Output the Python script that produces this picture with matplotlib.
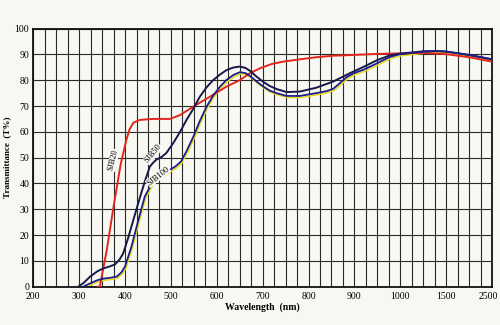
import numpy as np
import matplotlib
matplotlib.use("Agg")
import matplotlib.pyplot as plt
import matplotlib.transforms as mtransforms

# x axis is broken into equal steps: 200..1000 by 100, then 1500, 2500
TICK_WL = [200, 300, 400, 500, 600, 700, 800, 900, 1000, 1500, 2500]
Y_TICKS = [0, 10, 20, 30, 40, 50, 60, 70, 80, 90, 100]

# SJB20 (red)
wl_sjb20 = [340, 345, 360, 375, 390, 403, 410, 418, 432, 460, 498, 520, 549, 585,
            621, 650, 672, 694, 720, 745, 781, 817, 854, 900, 951, 1000, 1250,
            1500, 2000, 2500]
t_sjb20 = [0, 0, 14, 31, 47, 57, 61, 63.5, 64.6, 65, 65, 66.5, 69.8, 73.6,
           77.5, 80, 82.7, 84.6, 86.3, 87.2, 88.1, 88.9, 89.5, 89.8, 90.2, 90.4, 90.6,
           90.1, 88.9, 87.2]

# SJB50 (dark, upper)
wl_sjb50 = [298, 310, 324, 340, 353, 366, 378, 388, 396, 407, 418, 432, 443, 454,
            462, 469, 480, 490, 505, 520, 534, 549, 563, 578, 592, 607, 621, 636,
            650, 662, 672, 686, 701, 715, 730, 752, 781, 817, 854, 890, 919, 950, 977,
            1000, 1250, 1400, 1500, 2000, 2500]
t_sjb50 = [0, 1.5, 3.9, 6, 7.1, 7.8, 8.6, 10.5, 12.9, 19, 25.8, 34.3, 40.7, 46.5,
           48.2, 49.3, 50.3, 51.8, 55.6, 60, 64.6, 69, 73.6, 77.3, 80, 82.2, 83.9, 84.9,
           85.3, 84.8, 83.7, 81.5, 79.4, 77.8, 76.6, 75.4, 75.6, 77.1, 79.5, 82.7,
           85.1, 87.8, 89.6, 90.3, 91.2, 91.3, 91.1, 89.8, 88.1]

# SJB100 (blue, lower)
wl_sjb100 = [309, 324, 340, 353, 370, 382, 392, 400, 414, 429, 443, 458, 468, 476,
             488, 498, 510, 522, 534, 549, 563, 578, 592, 607, 621, 636, 650, 662,
             672, 686, 701, 715, 730, 752, 781, 817, 840, 854, 868, 883, 900, 919,
             950, 977, 1000, 1250, 1400, 1500, 2000, 2500]
t_sjb100 = [0, 1.3, 2.5, 3.1, 3.5, 3.9, 5.5, 7.8, 15.5, 25.8, 34.9, 39.8, 41.6, 42.6,
            44, 45.3, 46.6, 48.5, 52.5, 58.1, 64.2, 69.8, 74, 77.5, 80.1, 82, 83.1, 82.8,
            81.7, 79.6, 77.6, 76, 75, 73.9, 73.9, 75, 75.8, 76.7, 78.8, 81.2, 82.8, 84,
            86.6, 89, 90.1, 91.1, 91.3, 91.1, 89.8, 88.1]

BG = "#f8f8f3"


def to_pos(wl):
    return np.interp(wl, TICK_WL, np.arange(len(TICK_WL)))


plt.rcParams["font.family"] = ["Liberation Serif", "DejaVu Serif"]

fig = plt.figure(figsize=(5, 3.25), dpi=100, facecolor=BG)
ax = fig.add_axes([0.0666, 0.118, 0.9174, 0.794])
ax.set_facecolor(BG)

# grid
for i in np.arange(0, 10.01, 0.25):
    ax.axvline(i, color="#2a2a2a", lw=0.8, zorder=1)
for y in Y_TICKS:
    ax.axhline(y, color="#2a2a2a", lw=0.8, zorder=1)

ax.plot(to_pos(wl_sjb20), t_sjb20, color="#e3261c", lw=1.4, zorder=3)
ax.plot(to_pos(wl_sjb50), t_sjb50, color="#18184a", lw=1.4, zorder=3)
shift = mtransforms.offset_copy(ax.transData, fig=fig, x=0.6, y=-1.2, units="points")
ax.plot(to_pos(wl_sjb100), t_sjb100, color="#e6dc1e", lw=1.1, zorder=2,
        transform=shift)
ax.plot(to_pos(wl_sjb100), t_sjb100, color="#1d1d8c", lw=1.3, zorder=3)

# curve labels
ax.text(to_pos(374), 49, "SJB20", rotation=76, fontsize=6, ha="center",
        va="center", zorder=4, bbox=dict(fc=BG, ec="none", pad=0.3))
ax.text(to_pos(461), 51.5, "SJB50", rotation=50, fontsize=6, ha="center",
        va="center", zorder=4, bbox=dict(fc=BG, ec="none", pad=0.3))
ax.text(to_pos(472), 42.8, "SJB100", rotation=38, fontsize=6, ha="center",
        va="center", zorder=4, bbox=dict(fc=BG, ec="none", pad=0.3))

ax.set_xlim(0, 10)
ax.set_ylim(0, 100)
ax.set_xticks(np.arange(len(TICK_WL)))
ax.set_xticklabels([str(w) for w in TICK_WL])
ax.set_yticks(Y_TICKS)
ax.tick_params(length=0, labelsize=7, pad=4)
ax.tick_params(axis="y", pad=3)
for s in ax.spines.values():
    s.set_linewidth(1.3)
    s.set_color("#111111")

# last label sits a bit left so it stays inside the figure
last = ax.get_xticklabels()[-1]
last.set_transform(last.get_transform()
                   + mtransforms.ScaledTranslation(-3.5 / 100, 0, fig.dpi_scale_trans))

ax.set_xlabel("Wavelength  (nm)", fontsize=7, fontweight="bold", labelpad=1)
ax.set_ylabel("Transmittance  (T%)", fontsize=6.5, fontweight="bold")
ax.yaxis.set_label_coords(-0.048, 0.5)

fig.savefig("out.png", dpi=100, facecolor=BG)
